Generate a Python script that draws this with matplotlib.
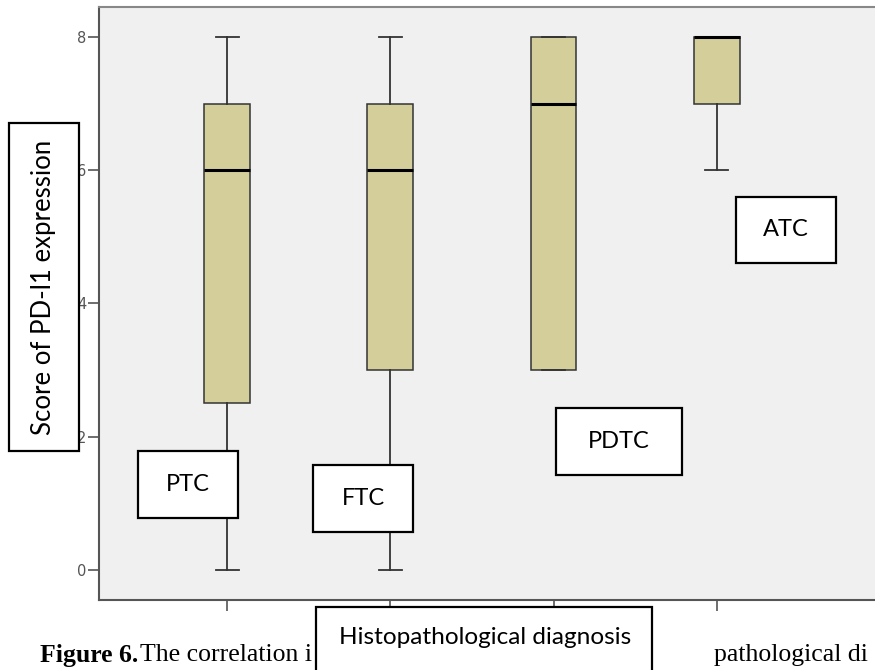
import matplotlib.pyplot as plt
from matplotlib.patches import Rectangle

W, H = 875, 670

# box statistics
groups = ["PTC", "FTC", "PDTC", "ATC"]
whis_lo = [0, 0, 3, 6]
q1 = [2.5, 3, 3, 7]
medians = [6, 6, 7, 8]
q3 = [7, 7, 8, 8]
whis_hi = [8, 8, 8, 8]

y_ticks = [0, 2, 4, 6, 8]
y_label = "Score of PD-l1 expression"
x_label = "Histopathological diagnosis"

# label boxes drawn over the chart, pixel rectangles (left, top, right, bottom)
label_boxes = {
    "PTC": (138, 451, 238, 518),
    "FTC": (313, 465, 413, 532),
    "PDTC": (556, 408, 682, 475),
    "ATC": (736, 197, 836, 263),
}

face = "#d3ce9a"
bg = "#f0f0f0"
edge = "#333333"


def fx(x):
    return x / W


def fy(y):
    return 1 - y / H


fig = plt.figure(figsize=(W / 100, H / 100), dpi=100)
fig.patch.set_facecolor("white")

ax = fig.add_axes([fx(99), fy(600), fx(W - 99), fy(7) - fy(600)])
ax.set_facecolor(bg)

stats = []
for i in range(len(groups)):
    stats.append(dict(med=medians[i], q1=q1[i], q3=q3[i],
                      whislo=whis_lo[i], whishi=whis_hi[i], fliers=[]))

ax.bxp(stats, positions=range(1, 5), widths=0.28, patch_artist=True,
       capwidths=0.14,
       boxprops=dict(facecolor=face, edgecolor=edge, linewidth=1.1),
       medianprops=dict(color="black", linewidth=2.2),
       whiskerprops=dict(color=edge, linewidth=1.3),
       capprops=dict(color=edge, linewidth=1.3))

ax.set_xlim(0.215, 4.97)
ax.set_ylim(-0.45, 8.45)
ax.set_yticks(y_ticks)
ax.set_xticks(range(1, 5))
ax.set_xticklabels([])
ax.tick_params(axis="y", length=8, width=1.2, color="#555555", pad=1,
               labelsize=10.5, labelcolor="#555555")
ax.tick_params(axis="x", length=8, width=1.2, color="#555555")
for s in ["left", "bottom", "top"]:
    ax.spines[s].set_color("#555555")
    ax.spines[s].set_linewidth(1.5)
ax.spines["top"].set_color("#888888")
ax.spines["right"].set_visible(False)

font = "Lato"


def text_box(left, top, right, bottom, label, rot=0, size=17):
    fig.add_artist(Rectangle((fx(left), fy(bottom)), fx(right - left),
                             fy(top) - fy(bottom), transform=fig.transFigure,
                             facecolor="white", edgecolor="black",
                             linewidth=1.6, zorder=10))
    fig.text(fx((left + right) / 2), fy((top + bottom) / 2), label,
             ha="center", va="center", rotation=rot, fontsize=size,
             family=font, zorder=11)


for g in groups:
    l, t, r, b = label_boxes[g]
    text_box(l, t, r, b, g)

text_box(9, 123, 79, 451, y_label, rot=90, size=18.5)

# caption underneath, partly covered by the axis title box
fig.text(fx(40), fy(644), "Figure 6.", fontsize=18.5, fontweight="bold",
         family="Liberation Serif", va="top", zorder=5)
fig.text(fx(140), fy(644), "The correlation i",
         fontsize=18.5, family="Liberation Serif", va="top", zorder=5)
fig.text(fx(714), fy(644), "pathological di",
         fontsize=18.5, family="Liberation Serif", va="top", zorder=5)

fig.add_artist(Rectangle((fx(316), fy(700)), fx(652 - 316), fy(607) - fy(700),
                         transform=fig.transFigure, facecolor="white",
                         edgecolor="black", linewidth=1.6, zorder=10))
fig.text(fx(485), fy(637), x_label, ha="center", va="center", fontsize=17.6,
         family=font, zorder=11)

fig.savefig("out.png", dpi=100)
